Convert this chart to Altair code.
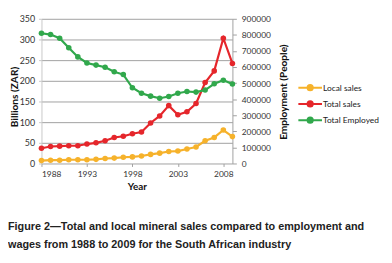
import altair as alt
import pandas as pd

years = list(range(1988, 2010))
local_sales = [7, 8, 8, 9, 9, 9, 10, 12, 13, 15, 16, 18, 22, 25, 29, 30, 35, 40, 55, 63, 81, 65]
total_sales = [37, 41, 42, 43, 43, 47, 50, 55, 63, 66, 72, 76, 98, 115, 140, 118, 125, 145, 196, 224, 303, 242]
employed = [810000, 802000, 779000, 720000, 663000, 625000, 612000, 599000, 571000, 553000,
            471000, 437000, 419000, 406000, 417000, 437000, 448000, 444000, 457000, 496000,
            518000, 494000]

series_names = ["Local sales", "Total sales", "Total Employed"]
series_colors = ["#F6B22B", "#E5262B", "#31A84C"]
x_ticks = [1988, 1993, 1998, 2003, 2008]
caption = [
    "Figure 2\u2014Total and local mineral sales compared to employment and",
    "wages from 1988 to 2009 for the South African industry",
]

sales_df = pd.DataFrame({
    "year": years * 2,
    "value": local_sales + total_sales,
    "series": ["Local sales"] * len(years) + ["Total sales"] * len(years),
})
emp_df = pd.DataFrame({"year": years, "employed": employed, "series": "Total Employed"})
cap_df = pd.DataFrame({"line": caption, "i": [0, 1]})

FONT = "Lato"

legend_path = "M-1.5,0L1.5,0M-0.33,0A0.33,0.33,0,1,0,0.33,0A0.33,0.33,0,1,0,-0.33,0Z"

color = alt.Color(
    "series:N",
    scale=alt.Scale(domain=series_names, range=series_colors),
    legend=alt.Legend(
        title=None, orient="none", legendX=264, legendY=61,
        symbolType=legend_path, symbolSize=256, symbolStrokeWidth=2,
        labelFont=FONT, labelFontSize=8.5, labelColor="#222222",
        labelOffset=4, rowPadding=0.5,
    ),
)

x = alt.X(
    "year:Q",
    scale=alt.Scale(domain=[1988, 2009], nice=False, zero=False),
    axis=alt.Axis(
        values=x_ticks, format="d", title="Year", grid=False,
        domain=False, ticks=True, tickSize=3, tickColor="#A0A0A0",
        labelFont=FONT, labelFontSize=8.5, labelColor="#333333", labelPadding=3,
        titleFont=FONT, titleFontSize=10, titleFontWeight="bold", titleColor="#111111",
        titleBaseline="alphabetic", titleY=26,
    ),
)

point_def = alt.OverlayMarkDef(filled=True, size=32, opacity=1)

left = alt.Chart(sales_df).mark_line(strokeWidth=2.2, point=point_def).encode(
    x=x,
    y=alt.Y(
        "value:Q",
        scale=alt.Scale(domain=[0, 350], nice=False),
        axis=alt.Axis(
            values=list(range(0, 351, 50)), title="Billions (ZAR)",
            grid=True, gridColor="#A0A0A0", gridWidth=1,
            domain=True, domainColor="#C8C8C8", ticks=True, tickSize=3, tickColor="#C8C8C8",
            labelFont=FONT, labelFontSize=9, labelColor="#333333", labelPadding=4,
            titleFont=FONT, titleFontSize=10.3, titleFontWeight="bold", titleColor="#111111",
            titleBaseline="middle", titleX=-27, titleY=79,
        ),
    ),
    color=color,
)

right = alt.Chart(emp_df).mark_line(strokeWidth=2.2, point=point_def).encode(
    x=x,
    y=alt.Y(
        "employed:Q",
        scale=alt.Scale(domain=[0, 900000], nice=False),
        axis=alt.Axis(
            orient="right", values=list(range(0, 900001, 100000)), format="d",
            title="Employment (People)", grid=False,
            domain=True, domainColor="#A0A0A0", ticks=True, tickSize=4, tickColor="#A0A0A0",
            labelFont=FONT, labelFontSize=8.5, labelColor="#333333", labelPadding=5,
            titleFont=FONT, titleFontSize=10.3, titleFontWeight="bold", titleColor="#111111",
            titleAngle=270, titleBaseline="middle", titleX=52, titleY=74,
        ),
    ),
    color=color,
)

cap_style = dict(align="left", baseline="alphabetic", font="Liberation Sans",
                 fontSize=11, fontWeight="bold", color="#222222")
cap0 = alt.Chart(cap_df[cap_df.i == 0]).mark_text(**cap_style).encode(
    text="line:N", x=alt.value(-34), y=alt.value(215))
cap1 = alt.Chart(cap_df[cap_df.i == 1]).mark_text(**cap_style).encode(
    text="line:N", x=alt.value(-34), y=alt.value(233))

chart = alt.layer(left, right, cap0, cap1).resolve_scale(y="independent").properties(
    width=194, height=147,
    padding={"left": 34, "top": 9, "right": 154, "bottom": 91},
    autosize=alt.AutoSizeParams(type="none"),
).configure_view(stroke=None)

chart.save("out.html", embed_options={"renderer": "svg", "actions": False})
